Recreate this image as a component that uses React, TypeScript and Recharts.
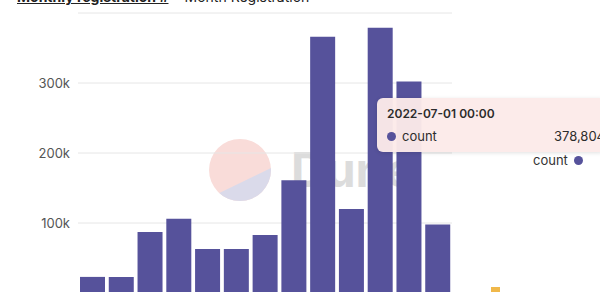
import React from 'react';
import { BarChart, Bar, XAxis, YAxis, CartesianGrid, Tooltip } from 'recharts';

const months = [
  '2021-09-01', '2021-10-01', '2021-11-01', '2021-12-01', '2022-01-01', '2022-02-01', '2022-03-01',
  '2022-04-01', '2022-05-01', '2022-06-01', '2022-07-01', '2022-08-01', '2022-09-01',
];
const counts = [23000, 23000, 87000, 106000, 63000, 63000, 83000, 161000, 366000, 120000, 378804, 302000, 98000];
const yTicks = [0, 100000, 200000, 300000];

const data = months.map((month, i) => ({ month, count: counts[i] }));

const BAR_COLOR = '#56529b';
const FONT = 'Inter, "Noto Sans", sans-serif';

const formatK = (v: number) => (v === 0 ? '0' : `${v / 1000}k`);

const HoverCard = ({ active, payload, label }: any) => {
  if (!active || !payload || !payload.length) return null;
  return (
    <div
      style={{
        width: 228,
        height: 54,
        boxSizing: 'border-box',
        padding: '8px 0 8px 10px',
        background: 'rgba(252, 234, 233, 0.96)',
        borderRadius: 6,
        boxShadow: '0 1px 4px rgba(0,0,0,0.12)',
        fontFamily: FONT,
        color: '#2c2c2c',
      }}
    >
      <div style={{ fontSize: 12, fontWeight: 600, lineHeight: '16px' }}>{label} 00:00</div>
      <div style={{ display: 'flex', alignItems: 'center', fontSize: 13, marginTop: 6, lineHeight: '16px' }}>
        <span style={{ width: 9, height: 9, borderRadius: '50%', background: BAR_COLOR, marginRight: 6 }} />
        <span>count</span>
        <span style={{ marginLeft: 'auto' }}>{payload[0].value.toLocaleString('en-US')}</span>
      </div>
    </div>
  );
};

export default function App() {
  return (
    <div style={{ position: 'absolute', left: 0, top: 0, width: 600, height: 292, overflow: 'hidden', background: '#fff' }}>
      {/* title strip, mostly scrolled out of view */}
      <div style={{ position: 'absolute', left: 17, top: -12, fontFamily: FONT, fontSize: 14, color: '#222', whiteSpace: 'nowrap' }}>
        <span style={{ fontWeight: 700, textDecoration: 'underline' }}>Monthly registration #</span>
        <span style={{ margin: '0 6px' }}>·</span>
        <span>Month Registration</span>
      </div>

      {/* watermark */}
      <svg width={600} height={292} style={{ position: 'absolute', left: 0, top: 0 }}>
        <defs>
          <clipPath id="wm">
            <circle cx={240} cy={170} r={31} />
          </clipPath>
        </defs>
        <g clipPath="url(#wm)">
          <rect x={205} y={135} width={70} height={70} fill="#f9dcd9" />
          <polygon points="205,200 275,166 275,205 205,205" fill="#dadaea" />
        </g>
        <text x={291} y={187} fontFamily={FONT} fontSize={48} fontWeight={700} fill="#dcdcdc">
          Dune
        </text>
      </svg>

      <div style={{ position: 'absolute', left: 0, top: 0 }}>
        <BarChart width={600} height={293} data={data} margin={{ top: 13, right: 148, bottom: 0, left: 0 }} barSize={25}>
          <CartesianGrid vertical={false} stroke="#e6e6e6" />
          <XAxis dataKey="month" hide />
          <YAxis
            width={78}
            domain={[0, 400000]}
            ticks={yTicks}
            tickFormatter={formatK}
            axisLine={false}
            tickLine={false}
            tick={{ fill: '#555', fontSize: 13, fontFamily: FONT }}
          />
          <Tooltip
            content={<HoverCard />}
            defaultIndex={10}
            active
            cursor={false}
            position={{ x: 377, y: 98 }}
            isAnimationActive={false}
            wrapperStyle={{ zIndex: 5 }}
          />
          <Bar dataKey="count" fill={BAR_COLOR} isAnimationActive={false} />
        </BarChart>
      </div>

      {/* legend */}
      <div
        style={{
          position: 'absolute',
          left: 533,
          top: 152,
          display: 'flex',
          alignItems: 'center',
          fontFamily: FONT,
          fontSize: 13,
          color: '#333',
        }}
      >
        <span>count</span>
        <span style={{ width: 9, height: 9, borderRadius: '50%', background: BAR_COLOR, marginLeft: 6 }} />
      </div>

      <div style={{ position: 'absolute', left: 491, top: 287, width: 9, height: 5, background: '#f0b84a' }} />
    </div>
  );
}
